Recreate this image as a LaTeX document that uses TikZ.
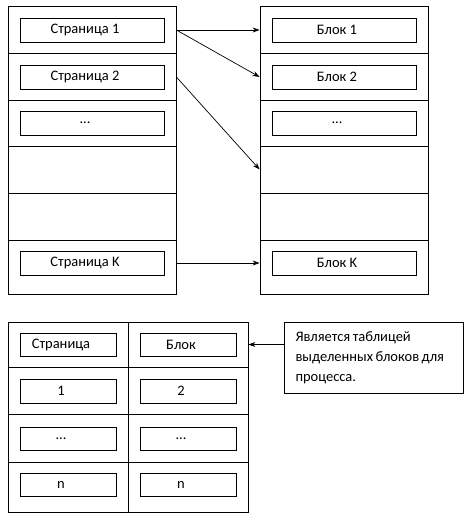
\documentclass[tikz,border=0pt]{standalone}
\usepackage{fontspec}
\setmainfont{Carlito}
\usetikzlibrary{arrows.meta}
\begin{document}
\begin{tikzpicture}[x=1pt,y=-1pt,
  cell/.style={draw, line width=0.8pt, inner sep=0pt},
  box/.style={draw, line width=0.8pt, inner sep=0pt, font=\fontsize{14.5}{17}\selectfont,
    execute at begin node=\hspace*{-14pt}},
  arr/.style={line width=0.7pt, -{Stealth[length=7pt,width=5pt]}}]
\useasboundingbox (0,0) rectangle (475,520);
% left and right column rows
\foreach \n/\c/\h in {1/29.5/47, 2/76.5/47, 3/123/46, 4/169.5/47, 5/216.5/47, 6/267/54} {
  \node[cell, minimum width=168pt, minimum height=\h pt] (lr\n) at (92,\c) {};
  \node[cell, minimum width=168pt, minimum height=\h pt] (rr\n) at (344,\c) {};
}
% left inner boxes
\node[box, minimum width=144pt, minimum height=24pt] (lp1) at (92,30) {Страница 1};
\node[box, minimum width=144pt, minimum height=24pt] (lp2) at (92,77) {Страница 2};
\node[box, minimum width=144pt, minimum height=24pt] (lp3) at (92,123) {...};
\node[box, minimum width=144pt, minimum height=24pt] (lpk) at (92,263) {Страница K};
% right inner boxes
\node[box, minimum width=144pt, minimum height=24pt] (rb1) at (344,30) {Блок 1};
\node[box, minimum width=144pt, minimum height=24pt] (rb2) at (344,77) {Блок 2};
\node[box, minimum width=144pt, minimum height=24pt] (rb3) at (344,123) {...};
\node[box, minimum width=144pt, minimum height=24pt] (rbk) at (344,263) {Блок K};
% arrows
\draw[arr] (lr1.east |- lp1) -- (rr1.west |- lp1);
\draw[arr] (lr1.east |- lp1) -- (rr2.west |- rb2);
\draw[arr] (lr2.east |- lp2) -- (rr4.west);
\draw[arr] (lr6.east |- lpk) -- (rr6.west |- rbk);
% bottom table
\foreach \n/\c/\h in {1/344.5/45, 2/390.5/47, 3/438/48, 4/487/50} {
  \node[cell, minimum width=120pt, minimum height=\h pt] (ta\n) at (68,\c) {};
  \node[cell, minimum width=120pt, minimum height=\h pt] (tb\n) at (188,\c) {};
}
\node[box, minimum width=96pt, minimum height=23pt] (pa1) at (68,344.5) {Страница};
\node[box, minimum width=96pt, minimum height=23pt] (pb1) at (188,344.5) {Блок};
\node[box, minimum width=96pt, minimum height=24pt] (pa2) at (68,391) {1};
\node[box, minimum width=96pt, minimum height=24pt] (pb2) at (188,391) {2};
\node[box, minimum width=96pt, minimum height=23pt] (pa3) at (68,438.5) {...};
\node[box, minimum width=96pt, minimum height=23pt] (pb3) at (188,438.5) {...};
\node[box, minimum width=96pt, minimum height=23pt] (pa4) at (68,484.5) {n};
\node[box, minimum width=96pt, minimum height=23pt] (pb4) at (188,484.5) {n};
% note
\node[draw, line width=0.8pt, minimum width=179pt, minimum height=71pt, inner xsep=11.5pt, inner ysep=0pt,
      text width=156pt, align=left, font=\fontsize{14.5}{20}\selectfont] (note) at (373.5,357.5)
  {\spaceskip=2.5pt plus 1pt minus 1pt\relax Является таблицей\\выделенных блоков для\\процесса.};
\draw[arr] (note.west |- tb1.east) -- (tb1.east);
\end{tikzpicture}
\end{document}
